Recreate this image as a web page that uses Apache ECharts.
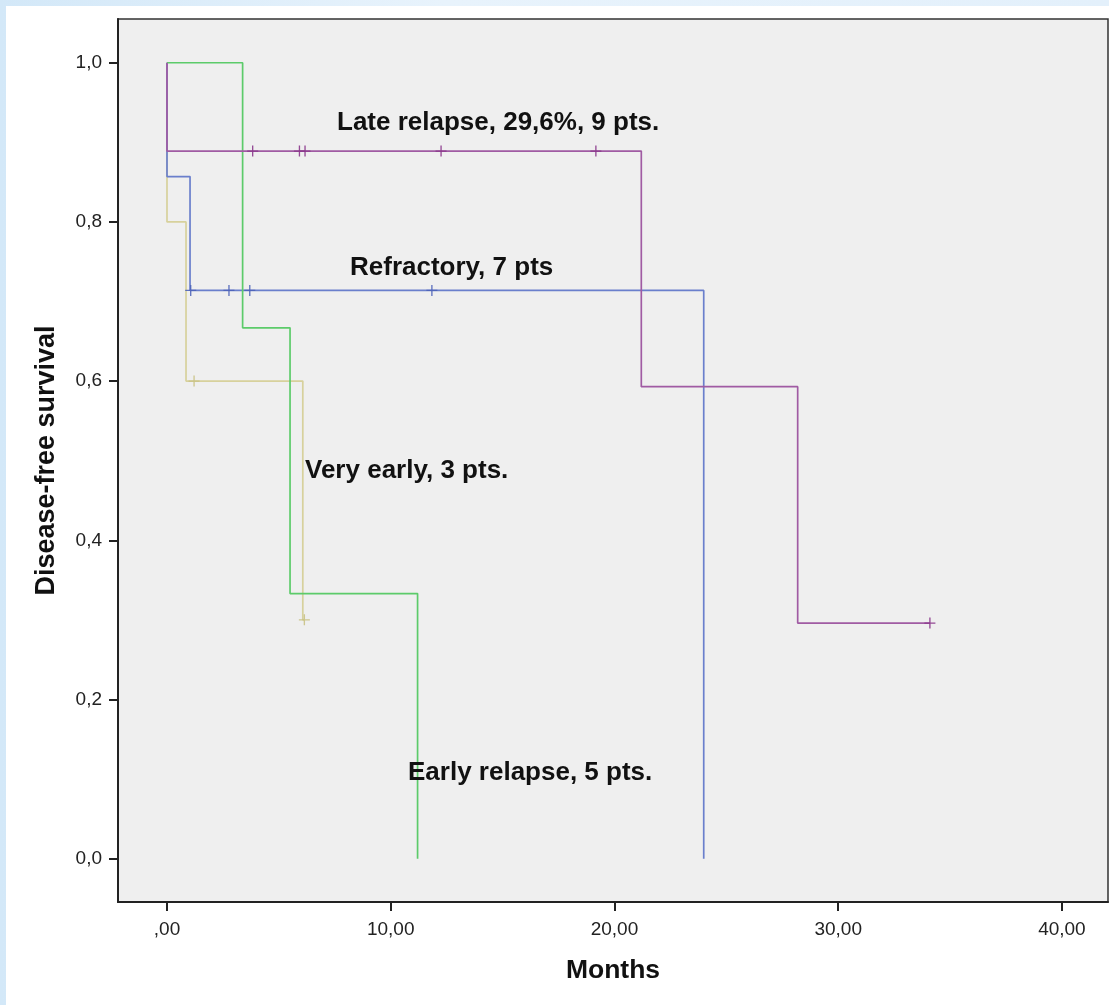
<!DOCTYPE html>
<html>
<head>
<meta charset="utf-8">
<script src="https://cdn.jsdelivr.net/npm/echarts@6/dist/echarts.min.js"></script>
<style>
  html, body { margin: 0; padding: 0; width: 1109px; height: 1005px; overflow: hidden; }
  body { background: linear-gradient(90deg, #d3e8f8 0%, #e8f3fc 40%, #e3f0fb 100%); position: relative; }
  #panel { position: absolute; left: 6px; top: 6px; right: 0; bottom: 0; background: #ffffff; }
  #chart { position: absolute; left: 0; top: 0; width: 1109px; height: 1005px; }
</style>
</head>
<body>
<div id="panel"></div>
<div id="chart"></div>
<script>
// ---- Data (months, survival proportion) ----
var xTicks = [0, 10, 20, 30, 40];
var yTicks = [0, 0.2, 0.4, 0.6, 0.8, 1.0];

// Kaplan-Meier step points: [time, survival after step]
var earlyRelapseSteps = [[0, 1.0], [3.38, 0.667], [5.5, 0.333], [11.2, 0.0]];
var earlyRelapseCensor = [];

var lateRelapseSteps = [[0, 1.0], [0, 0.889], [21.2, 0.593], [28.19, 0.296], [34.1, 0.296]];
var lateRelapseCensor = [[3.83, 0.889], [5.92, 0.889], [6.17, 0.889], [12.25, 0.889], [19.17, 0.889], [34.1, 0.296]];

var refractorySteps = [[0, 1.0], [0, 0.857], [1.03, 0.714], [23.99, 0.0]];
var refractoryCensor = [[1.06, 0.714], [2.77, 0.714], [3.7, 0.714], [11.84, 0.714]];

var veryEarlySteps = [[0, 1.0], [0, 0.8], [0.85, 0.6], [6.07, 0.3], [6.14, 0.3]];
var veryEarlyCensor = [[1.21, 0.6], [6.14, 0.3]];

var labels = {
  late: 'Late relapse, 29,6%, 9 pts.',
  refractory: 'Refractory, 7 pts',
  veryEarly: 'Very early, 3 pts.',
  early: 'Early relapse, 5 pts.'
};

var FONT = '"Liberation Sans", Arial, sans-serif';
var plusSymbol = 'path://M0,4.4H10V5.6H0Z M4.4,0H5.6V10H4.4Z';

function stepSeries(name, data, color, z) {
  return {
    name: name, type: 'line', step: 'end', data: data,
    showSymbol: false, symbol: 'none', silent: true, z: z,
    lineStyle: { color: color, width: 1.7 },
    animation: false
  };
}
function censorSeries(name, data, color, z) {
  return {
    name: name + ' censored', type: 'scatter', data: data,
    symbol: plusSymbol, symbolSize: 11, silent: true, z: z,
    itemStyle: { color: color, opacity: 0.9 },
    animation: false
  };
}
function annot(text, left, top) {
  return { type: 'text', left: left, top: top, z: 100,
    style: { text: text, fontFamily: FONT, fontSize: 26, fontWeight: 'bold', fill: '#111' } };
}

var chart = echarts.init(document.getElementById('chart'), null, { renderer: 'canvas' });
chart.setOption({
  backgroundColor: 'transparent',
  animation: false,
  grid: {
    left: 118, top: 19, right: 1, bottom: 103,
    show: true, backgroundColor: '#efefef',
    borderColor: '#333', borderWidth: 1.5
  },
  xAxis: {
    type: 'value', min: -2.19, max: 42.06,
    name: 'Months', nameLocation: 'middle', nameGap: 55,
    nameTextStyle: { fontFamily: FONT, fontSize: 26.5, fontWeight: 'bold', color: '#111' },
    axisLine: { show: true, onZero: false, lineStyle: { color: '#222', width: 2 } },
    axisTick: { show: true, length: 9, customValues: xTicks, lineStyle: { color: '#222', width: 2 } },
    axisLabel: {
      customValues: xTicks, margin: 18,
      fontFamily: FONT, fontSize: 19, color: '#222',
      formatter: function (v) { return v === 0 ? ',00' : v.toFixed(2).replace('.', ','); }
    },
    splitLine: { show: false }
  },
  yAxis: {
    type: 'value', min: -0.0545, max: 1.055,
    name: 'Disease-free survival', nameLocation: 'middle', nameGap: 58, nameRotate: 90,
    nameTextStyle: { fontFamily: FONT, fontSize: 27, fontWeight: 'bold', color: '#111' },
    axisLine: { show: true, onZero: false, lineStyle: { color: '#222', width: 2 } },
    axisTick: { show: true, length: 9, customValues: yTicks, lineStyle: { color: '#222', width: 2 } },
    axisLabel: {
      customValues: yTicks, margin: 16,
      fontFamily: FONT, fontSize: 19, color: '#222',
      formatter: function (v) { return v.toFixed(1).replace('.', ','); }
    },
    splitLine: { show: false }
  },
  series: [
    stepSeries('Very early', veryEarlySteps, '#d7d19c', 2),
    stepSeries('Refractory', refractorySteps, '#6a7fcc', 3),
    stepSeries('Early relapse', earlyRelapseSteps, '#5ccb6a', 4),
    stepSeries('Late relapse', lateRelapseSteps, '#a05ba3', 5),
    censorSeries('Very early', veryEarlyCensor, '#c9c284', 6),
    censorSeries('Refractory', refractoryCensor, '#4d63b8', 6),
    censorSeries('Early relapse', earlyRelapseCensor, '#3fb84f', 6),
    censorSeries('Late relapse', lateRelapseCensor, '#8a368b', 6)
  ],
  graphic: [
    annot(labels.late, 337, 110),
    annot(labels.refractory, 350, 255),
    annot(labels.veryEarly, 305, 458),
    annot(labels.early, 408, 760)
  ]
});
</script>
</body>
</html>
